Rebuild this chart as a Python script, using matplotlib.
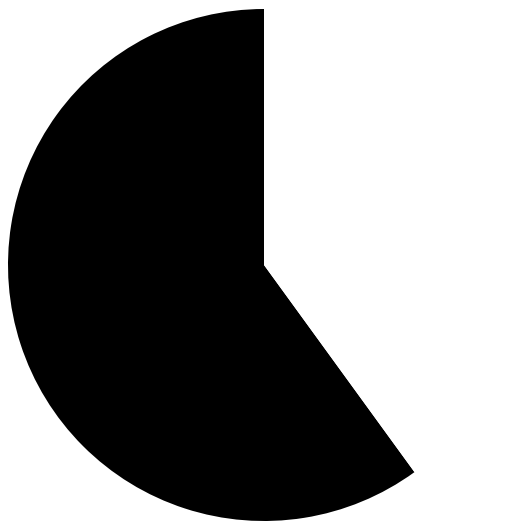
import matplotlib
matplotlib.use('Agg')
import matplotlib.pyplot as plt

labels = ['A', 'B']
values = [60, 40]
colors = ['#000000', '#ffffff']

fig = plt.figure(figsize=(5.3, 5.21), dpi=100)
ax = fig.add_axes([8 / 530, 0 / 521, 512 / 530, 512 / 521])
ax.pie(values, colors=colors, startangle=90, counterclock=True,
       wedgeprops={'linewidth': 0})
ax.set_xlim(-1, 1)
ax.set_ylim(-1, 1)
ax.axis('off')

fig.savefig('out.png', dpi=100)
